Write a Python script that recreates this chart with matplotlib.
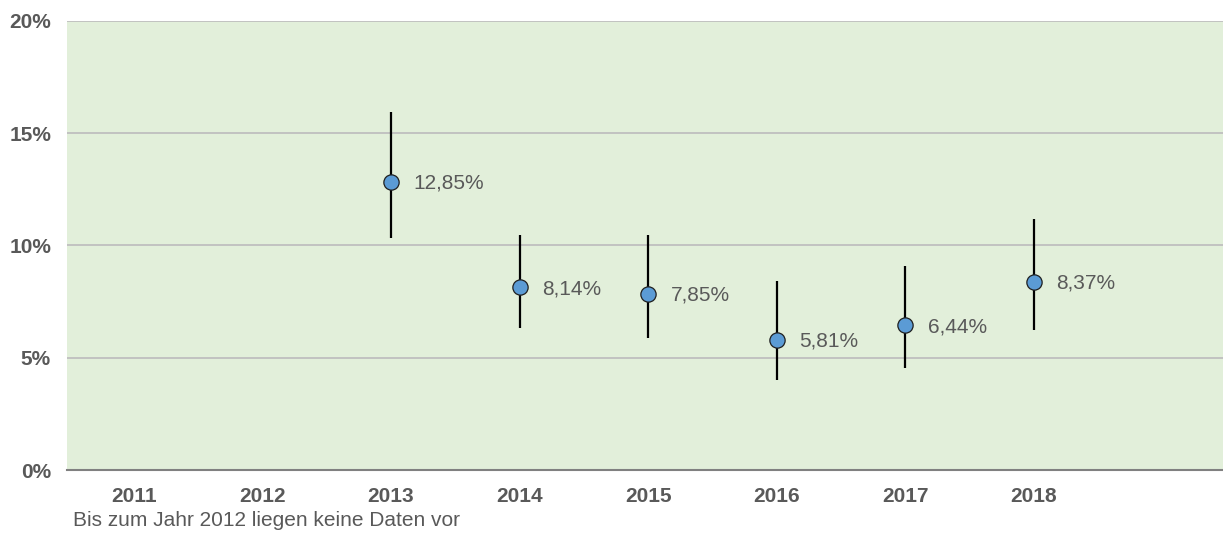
import matplotlib
matplotlib.use("Agg")
import matplotlib.pyplot as plt

plt.rcParams["font.family"] = ["Liberation Sans", "DejaVu Sans"]

# Jahre, Punktschätzer und Konfidenzgrenzen (in %)
years = ["2011", "2012", "2013", "2014", "2015", "2016", "2017", "2018"]
values = [None, None, 12.85, 8.14, 7.85, 5.81, 6.44, 8.37]
lower = [None, None, 10.32, 6.31, 5.87, 4.01, 4.56, 6.24]
upper = [None, None, 15.96, 10.47, 10.47, 8.43, 9.10, 11.17]
yticks = [0, 5, 10, 15, 20]

TXT = "#595959"

fig = plt.figure(figsize=(12.23, 5.4), dpi=100)
ax = fig.add_axes([67 / 1223, 1 - 470 / 540, 1156 / 1223, 449 / 540])
ax.set_facecolor("#E2EFDA")

idx = [i for i, v in enumerate(values) if v is not None]
xs = idx
ys = [values[i] for i in idx]
lo = [values[i] - lower[i] for i in idx]
hi = [upper[i] - values[i] for i in idx]

ax.errorbar(xs, ys, yerr=[lo, hi], fmt="none", ecolor="black", elinewidth=1.6,
            capsize=0, zorder=3)
ax.plot(xs, ys, "o", ms=11, mfc="#5B9BD5", mec="#1F1F1F", mew=0.9, zorder=4)

for x, v in zip(xs, ys):
    ax.annotate(f"{v:.2f}%".replace(".", ","), (x, v), xytext=(16, -1),
                textcoords="offset points", va="center", ha="left",
                fontsize=15, color=TXT)

ax.set_xlim(-0.52, 8.47)
ax.set_ylim(0, 20)
ax.set_xticks(range(len(years)))
ax.set_xticklabels(years, fontsize=15, fontweight="bold", color=TXT)
ax.set_yticks(yticks)
ax.set_yticklabels([f"{t}%" for t in yticks], fontsize=15, fontweight="bold",
                   color=TXT)
ax.tick_params(axis="both", length=0)
ax.tick_params(axis="x", pad=12)
ax.tick_params(axis="y", pad=11.5)

ax.grid(axis="y", color="#BFBFBF", lw=1.3)
ax.set_axisbelow(True)
for s in ["top", "right", "left"]:
    ax.spines[s].set_visible(False)
ax.spines["bottom"].set_color("#808080")
ax.spines["bottom"].set_linewidth(1.5)

fig.text(73 / 1223, 1 - 521 / 540, "Bis zum Jahr 2012 liegen keine Daten vor",
         fontsize=15, color=TXT, va="center", ha="left")

fig.savefig("out.png", dpi=100)
